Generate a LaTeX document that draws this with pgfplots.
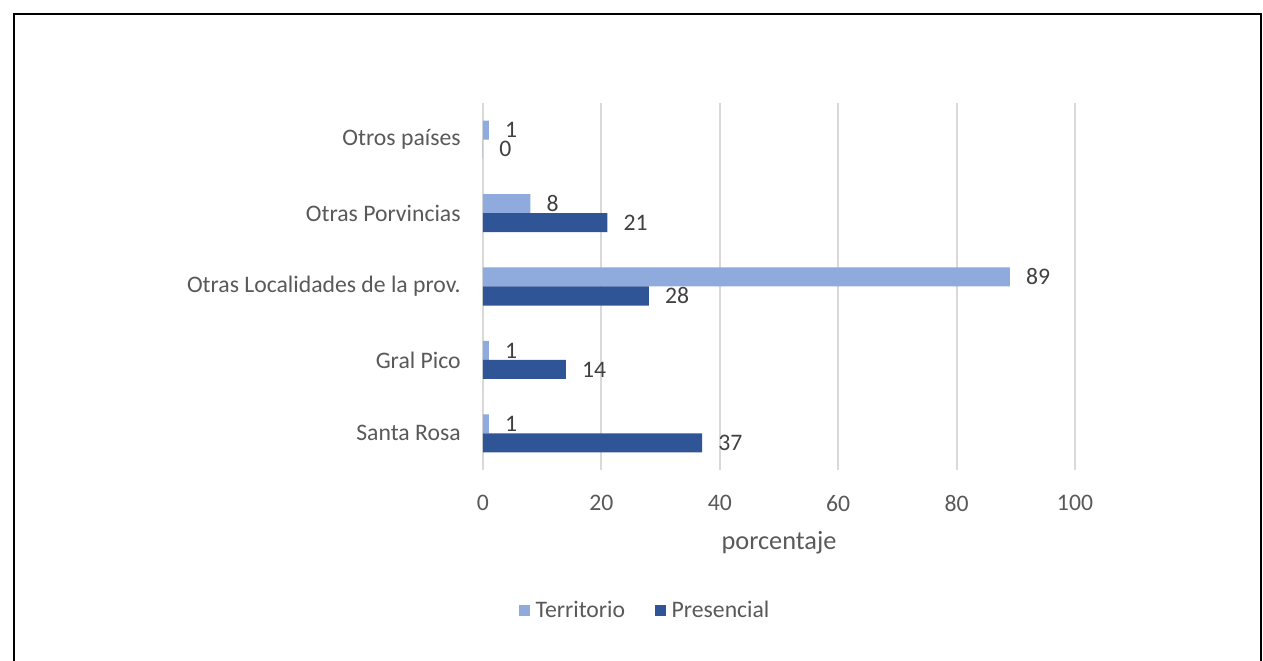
\documentclass[border=0pt]{standalone}
\usepackage{fontspec}
\setmainfont{Carlito}
\usepackage{pgfplots}
\pgfplotsset{compat=1.18}
\definecolor{terr}{HTML}{8FAADC}
\definecolor{pres}{HTML}{2F5597}
\definecolor{ticktext}{HTML}{595959}
\definecolor{lbltext}{HTML}{404040}
\definecolor{gridc}{HTML}{D9D9D9}
\begin{document}
\begin{tikzpicture}
\useasboundingbox (0,0) rectangle (479.94pt,251.18pt);
\draw[line width=1pt] (5.32pt,0) -- (5.32pt,245.86pt) -- (479.2pt,245.86pt) -- (479.2pt,0);
\begin{axis}[at={(183.54pt,72.58pt)}, anchor=south west, scale only axis,
 width=224.96pt, height=139.46pt,
 xbar, xmin=0, xmax=100, ymin=-0.5, ymax=4.5,
 xtick={0,20,...,100}, ytick={0,...,4},
 yticklabels={Santa Rosa, Gral Pico, Otras Localidades de la prov., Otras Porvincias, Otros países},
 axis line style={draw=none}, major tick length=0pt,
 xmajorgrids, grid style={gridc, line width=0.75pt},
 tick label style={font=\fontsize{9}{11}\selectfont, text=ticktext},
 /pgf/number format/assume math mode=true,
 xticklabel style={anchor=north, inner sep=0pt, yshift=-9.5pt},
 yticklabel style={anchor=east, inner sep=0pt, xshift=-8.3pt},
 xlabel={porcentaje},
 xlabel style={at={(axis description cs:0.5,0)}, anchor=center, yshift=-27.7pt, font=\fontsize{10}{12}\selectfont, text=ticktext, inner sep=0pt},
 bar width=0.259,
 nodes near coords,
 nodes near coords style={anchor=west, inner sep=0pt, xshift=6pt, font=\fontsize{9}{11}\selectfont, text=lbltext},
 legend style={at={(axis description cs:0.277,-0.384)}, anchor=center, draw=none, fill=none,
   font=\fontsize{9}{11}\selectfont, text=ticktext, cells={anchor=west},
   /tikz/every even column/.append style={column sep=9.5pt}},
 legend columns=2,
 legend image code/.code={\fill[#1] (0pt,-2.1pt) rectangle (4.2pt,2.1pt);},
]
\addplot[fill=terr, draw=none, bar shift=0.1295] coordinates {(1,0) (1,1) (89,2) (8,3) (1,4)};
\addplot[fill=pres, draw=none, bar shift=-0.1295] coordinates {(37,0) (14,1) (28,2) (21,3) (0,4)};
\legend{Territorio, Presencial}
\end{axis}
\end{tikzpicture}
\end{document}
